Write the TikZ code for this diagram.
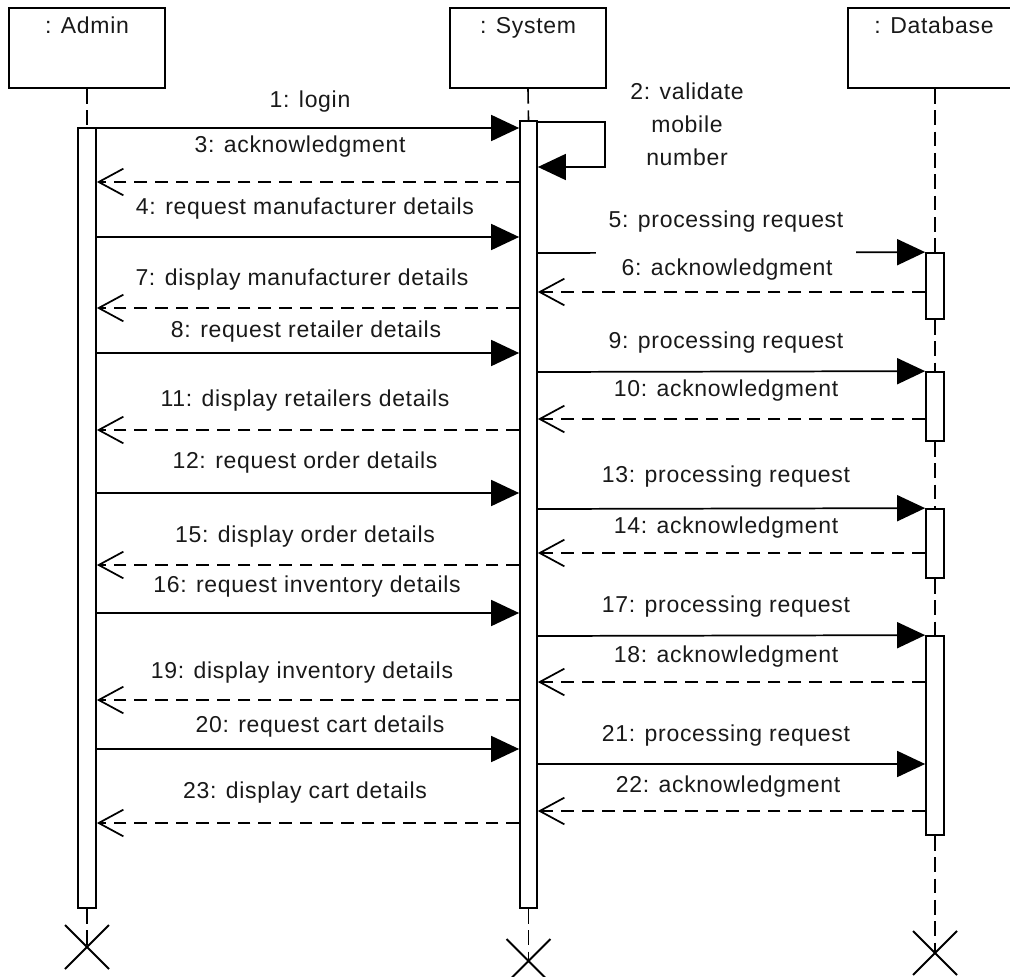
\documentclass[tikz,border=0pt]{standalone}
\usepackage{fontspec}
\setmainfont{Liberation Sans}[LetterSpace=3]
\usetikzlibrary{arrows.meta,shapes.misc}

\begin{document}
\begin{tikzpicture}[x=0.75pt,y=-0.75pt,
  font=\fontsize{17.25pt}{24.75pt}\selectfont,
  objbox/.style={draw, line width=1.5pt, minimum width=117pt, minimum height=60pt, inner sep=0pt},
  txt/.style={text=black!90, inner sep=0pt, text height=12.4pt, text depth=3.6pt},
  lifeline/.style={line width=1.2pt, dash pattern=on 11pt off 5pt},
  actbar/.style={draw, fill=white, line width=1.3pt, minimum width=13.5pt, inner sep=0pt},
  call/.style={line width=1.3pt, -{Triangle[length=21pt,width=19.5pt]}},
  reply/.style={line width=1.3pt, dash pattern=on 9.5pt off 6pt,
    -{Straight Barb[length=18.5pt,width=20pt,line width=1.3pt]}},
  destroy/.style={draw, cross out, line width=1.5pt, minimum size=31.5pt, inner sep=0pt}
]
\useasboundingbox (0,0) rectangle (1010,977);
\clip (0,0) rectangle (1010,977);

% participants
\node[objbox] (admin) at (87,48) {};
\node[objbox] (system) at (528,48) {};
\node[objbox, minimum width=130.5pt] (db) at (935,48) {};
\node[txt] (adminname) at (87,28) {: Admin};
\node[txt] (systemname) at (528,28) {: System};
\node[txt] (dbname) at (934,28) {: Database};

% activation bars
\node[actbar, minimum height=585pt] (abar) at (87,518) {};
\node[actbar, minimum width=12.75pt, minimum height=590.25pt] (sbar) at (528.5,514.5) {};
\node[actbar, minimum height=49.5pt] (dbar1) at (935,286) {};
\node[actbar, minimum height=51.75pt] (dbar2) at (935,406.5) {};
\node[actbar, minimum height=51.75pt] (dbar3) at (935,543.5) {};
\node[actbar, minimum height=149.25pt] (dbar4) at (935,735.5) {};

% destruction marks
\node[destroy] (ax) at (87,947) {};
\node[destroy] (sx) at (528.5,961) {};
\node[destroy] (dx) at (935,953) {};

% lifelines
\draw[lifeline] (admin.south) -- (abar.north);
\draw[lifeline] (abar.south) -- (ax.center);
\draw[lifeline] (system.south) -- (sbar.north);
\draw[lifeline] (sbar.south) -- (sx.center);
\draw[lifeline] (db.south) -- (dbar1.north);
\draw[lifeline] (dbar1.south) -- (dbar2.north);
\draw[lifeline] (dbar2.south) -- (dbar3.north);
\draw[lifeline] (dbar3.south) -- (dbar4.north);
\draw[lifeline] (dbar4.south) -- (dx.center);

% 1
\draw[call] (abar.east |- 0,128) -- (sbar.west |- 0,128);
\node[txt] (l1) at (310,102) {1: login};
% 2 (self call)
\coordinate (loopR) at (605,122);
\draw[call] (sbar.east |- loopR) -- (loopR) -- (loopR |- 0,167) -- (sbar.east |- 0,167);
\node[text=black!90, inner sep=0pt, align=center] (l2) at (687,124) {2: validate\\mobile\\number};
% 3
\draw[reply] (sbar.west |- 0,182) -- (abar.east |- 0,182);
\node[txt] (l3) at (300,147) {3: acknowledgment};
% 4
\draw[call] (abar.east |- 0,237) -- (sbar.west |- 0,237);
\node[txt] (l4) at (305,209) {4: request manufacturer details};
% 5
\draw[call] (sbar.east |- 0,253) -- (dbar1.north west);
\node[txt, fill=white, inner xsep=9.75pt, text depth=22.5pt, anchor=base] (l5) at (726,228) {5: processing request};
% 6
\draw[reply] (dbar1.west |- 0,292) -- (sbar.east |- 0,292);
\node[txt] (l6) at (727,270) {6: acknowledgment};
% 7
\draw[reply] (sbar.west |- 0,308) -- (abar.east |- 0,308);
\node[txt] (l7) at (302,280) {7: display manufacturer details};
% 8
\draw[call] (abar.east |- 0,353) -- (sbar.west |- 0,353);
\node[txt] (l8) at (306,332) {8: request retailer details};
% 9
\draw[call] (sbar.east |- 0,372) -- (dbar2.north west);
\node[txt] (l9) at (726,343) {9: processing request};
% 10
\draw[reply] (dbar2.west |- 0,419) -- (sbar.east |- 0,419);
\node[txt] (l10) at (726,391) {10: acknowledgment};
% 11
\draw[reply] (sbar.west |- 0,430) -- (abar.east |- 0,430);
\node[txt] (l11) at (305,401) {11: display retailers details};
% 12
\draw[call] (abar.east |- 0,493) -- (sbar.west |- 0,493);
\node[txt] (l12) at (305,463) {12: request order details};
% 13
\draw[call] (sbar.east |- 0,509) -- (dbar3.north west);
\node[txt] (l13) at (726,477) {13: processing request};
% 14
\draw[reply] (dbar3.west |- 0,553) -- (sbar.east |- 0,553);
\node[txt] (l14) at (726,528) {14: acknowledgment};
% 15
\draw[reply] (sbar.west |- 0,565) -- (abar.east |- 0,565);
\node[txt] (l15) at (305,537) {15: display order details};
% 16
\draw[call] (abar.east |- 0,613) -- (sbar.west |- 0,613);
\node[txt] (l16) at (307,587) {16: request inventory details};
% 17
\draw[call] (sbar.east |- 0,636) -- (dbar4.north west);
\node[txt] (l17) at (726,607) {17: processing request};
% 18
\draw[reply] (dbar4.west |- 0,682) -- (sbar.east |- 0,682);
\node[txt] (l18) at (726,657) {18: acknowledgment};
% 19
\draw[reply] (sbar.west |- 0,700) -- (abar.east |- 0,700);
\node[txt] (l19) at (302,673) {19: display inventory details};
% 20
\draw[call] (abar.east |- 0,749) -- (sbar.west |- 0,749);
\node[txt] (l20) at (320,727) {20: request cart details};
% 21
\draw[call] (sbar.east |- 0,764) -- (dbar4.west |- 0,764);
\node[txt] (l21) at (726,736) {21: processing request};
% 22
\draw[reply] (dbar4.west |- 0,811) -- (sbar.east |- 0,811);
\node[txt] (l22) at (728,787) {22: acknowledgment};
% 23
\draw[reply] (sbar.west |- 0,823) -- (abar.east |- 0,823);
\node[txt] (l23) at (305,793) {23: display cart details};
\end{tikzpicture}
\end{document}
